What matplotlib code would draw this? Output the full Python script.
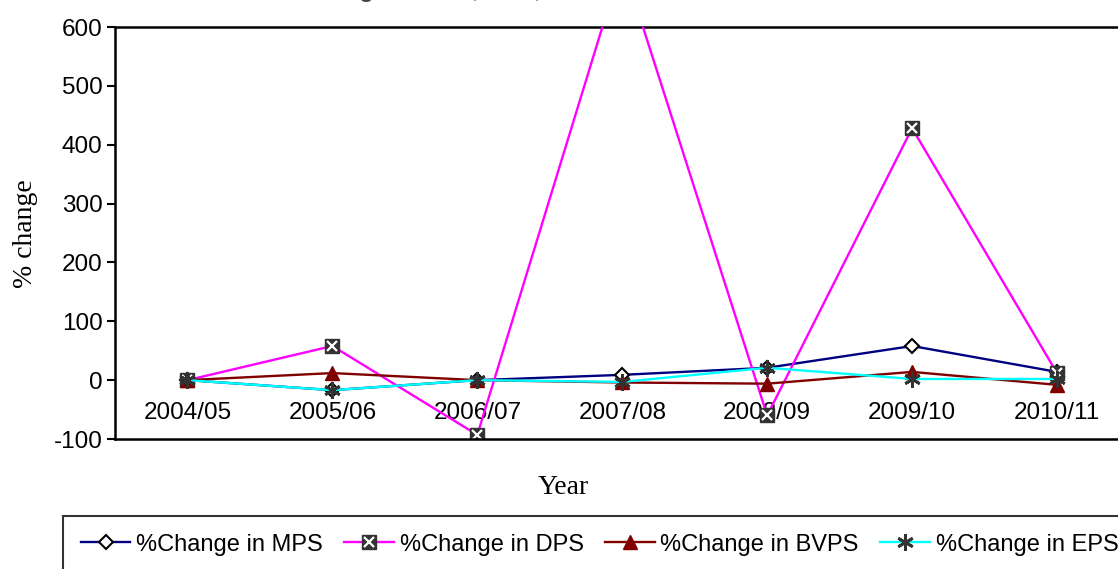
import numpy as np
import matplotlib
matplotlib.use("Agg")
import matplotlib.pyplot as plt
from matplotlib.legend_handler import HandlerTuple

# Data
years = ['2004/05', '2005/06', '2006/07', '2007/08', '2008/09', '2009/10', '2010/11']
mps = [0, -17, 0, 9, 21, 58, 14]
dps = [0, 58, -93, 710, -60, 428, 12]
bvps = [0, 12, 0, -4, -6, 14, -8]
eps = [0, -17, 0, -3, 21, 2, 2]

plt.rcParams['font.family'] = ['Liberation Sans', 'DejaVu Sans']

fig = plt.figure(figsize=(11.18, 5.69), dpi=100)
ax = fig.add_axes([115 / 1118, 1 - 439 / 569, (1129.5 - 115) / 1118, (439 - 27) / 569])

x = np.arange(len(years))

l_mps, = ax.plot(x, mps, color='#000080', lw=1.7, marker='D', ms=7,
                 mfc='white', mec='black', mew=1.5, zorder=3)

l_dps, = ax.plot(x, dps, color='#FF00FF', lw=1.7, marker='s', ms=10,
                 mfc='#333333', mec='#333333', zorder=4)
x_dps, = ax.plot(x, dps, ls='none', marker='x', ms=7, mec='white', mew=1.6, zorder=4)

l_bvps, = ax.plot(x, bvps, color='#800000', lw=1.7, marker='^', ms=10,
                  mfc='#800000', mec='#800000', zorder=5)

l_eps, = ax.plot(x, eps, color='#00FFFF', lw=1.7, marker=(6, 2, 0), ms=12,
                 mec='#333333', mew=2, zorder=6)

ax.set_xlim(-0.5, 6.5)
ax.set_ylim(-100, 600)
ax.set_yticks(range(-100, 601, 100))
ax.set_yticklabels([str(v) for v in range(-100, 601, 100)])
ax.tick_params(axis='y', direction='out', length=6, width=1.5, labelsize=17.5, pad=3)

ax.set_xticks(x)
ax.set_xticklabels(years)
ax.spines['bottom'].set_position(('data', 0))
ax.spines['bottom'].set_visible(False)
ax.tick_params(axis='x', length=0, labelsize=17.5, pad=16)
ax.axhline(-100, color='black', lw=1.8, clip_on=False, zorder=10)

ax.spines['right'].set_visible(False)
for s in ['top', 'left']:
    ax.spines[s].set_linewidth(1.8)

# Title (mostly cut off at the top of the image, as in the source)
fig.text(300 / 1118, 1 + 3.5 / 569, 'Change in MPS, DPS, BVPS and EPS',
         ha='left', va='baseline', fontsize=17, fontweight='bold', color='#444444')

fig.text(563 / 1118, 1 - 487 / 569, 'Year', ha='center', va='center',
         fontsize=20, family='Liberation Serif')
fig.text(25 / 1118, 1 - 234 / 569, '% change', ha='center', va='center',
         rotation=90, fontsize=20, family='Liberation Serif')

leg = fig.legend([l_mps, (l_dps, x_dps), l_bvps, l_eps],
                 ['%Change in MPS', '%Change in DPS', '%Change in BVPS', '%Change in EPS'],
                 handler_map={tuple: HandlerTuple(ndivide=1)},
                 loc='upper left', bbox_to_anchor=(63 / 1118, 1 - 516 / 569),
                 ncol=4, fontsize=17, frameon=True, fancybox=False,
                 handlelength=2.1, handletextpad=0.25, columnspacing=0.9,
                 borderpad=0.75, borderaxespad=0)
leg.get_frame().set_edgecolor('black')
leg.get_frame().set_linewidth(1.5)

fig.savefig('out.png', dpi=100)
